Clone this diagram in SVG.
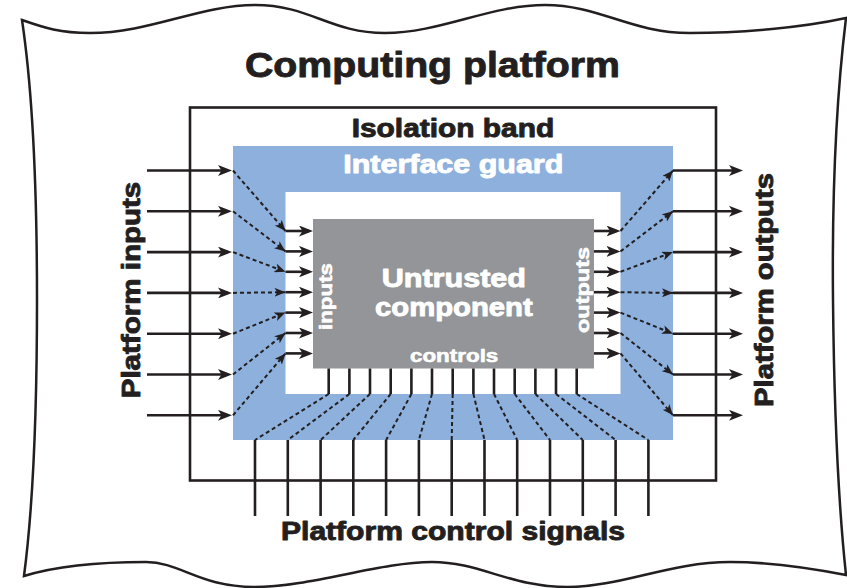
<svg xmlns="http://www.w3.org/2000/svg" width="847" height="588" viewBox="0 0 847 588">
<style>
text{font-family:"Liberation Sans",Arial,sans-serif;font-weight:bold;stroke-width:0.9;stroke-linejoin:round}
.dk{fill:#231f20;stroke:#231f20}
.wt{fill:#ffffff;stroke:#ffffff}
.ln{stroke:#231f20;stroke-width:2.6;fill:none}
.dt{stroke:#231f20;stroke-width:2;fill:none;stroke-dasharray:4 3}
.arr{marker-end:url(#ah)}
.darr{marker-end:url(#dh)}
</style>
<defs>
<marker id="ah" viewBox="0 0 14 11" markerWidth="14" markerHeight="11" refX="10" refY="5.5" orient="auto" markerUnits="userSpaceOnUse"><path d="M0,0 L14,5.5 L0,11 L3.5,5.5 Z" fill="#231f20"/></marker>
<marker id="dh" viewBox="0 0 11 9" markerWidth="11" markerHeight="9" refX="11" refY="4.5" orient="auto" markerUnits="userSpaceOnUse"><path d="M0,0 L11,4.5 L0,9 L2.8,4.5 Z" fill="#231f20"/></marker>
</defs>
<rect width="847" height="588" fill="#ffffff"/>
<g id="platform">
<path d="M22,20 C45,28 60,33 90,33 C150,33 200,5 255,5 C310,5 330,33 385,33 C440,33 490,5 545,5 C600,5 630,33 690,33 C740,33 800,28 846,18 C836,100 832,200 833,300 C834,400 838,500 846,575 C800,566 760,562 730,562 C670,562 620,587 568,587 C510,587 480,562 432,562 C380,562 310,587 254,587 C200,587 180,562 146,562 C90,562 50,568 24,576 C34,500 37,400 37,300 C37,200 34,100 22,20 Z" fill="#ffffff" stroke="#231f20" stroke-width="2.5"/>
<text class="dk" x="245" y="77" font-size="35" textLength="375" lengthAdjust="spacingAndGlyphs">Computing platform</text>
</g>
<g id="isolation-band">
<rect x="190" y="107.5" width="526" height="373" class="ln"/>
<text class="dk" x="351.7" y="136.7" font-size="25.5" textLength="202.5" lengthAdjust="spacingAndGlyphs">Isolation band</text>
</g>
<g id="interface-guard">
<rect x="233" y="146" width="440" height="294" fill="#8db0dd"/>
<rect x="285.5" y="192" width="335" height="202" fill="#ffffff"/>
<text class="wt" x="343.3" y="173.3" font-size="25.5" textLength="220" lengthAdjust="spacingAndGlyphs">Interface guard</text>
</g>
<g id="untrusted-component">
<rect x="313" y="219" width="281" height="149.5" fill="#939598"/>
<text class="wt" x="381.7" y="286.7" font-size="25.5" textLength="144.3" lengthAdjust="spacingAndGlyphs">Untrusted</text>
<text class="wt" x="375" y="315.5" font-size="25.5" textLength="157.7" lengthAdjust="spacingAndGlyphs">component</text>
<text class="wt" x="410" y="361.5" font-size="18.5" textLength="88.3" lengthAdjust="spacingAndGlyphs" style="stroke-width:0.6">controls</text>
<text class="wt" transform="translate(332,296.5) rotate(-90)" text-anchor="middle" font-size="18.5" textLength="67" lengthAdjust="spacingAndGlyphs" style="stroke-width:0.6">inputs</text>
<text class="wt" transform="translate(589,290) rotate(-90)" text-anchor="middle" font-size="18.5" textLength="86" lengthAdjust="spacingAndGlyphs" style="stroke-width:0.6">outputs</text>
</g>
<g id="labels">
<text class="dk" transform="translate(139.5,290) rotate(-90)" text-anchor="middle" font-size="25.5" textLength="216.6" lengthAdjust="spacingAndGlyphs">Platform inputs</text>
<text class="dk" transform="translate(773,290) rotate(-90)" text-anchor="middle" font-size="25.5" textLength="234" lengthAdjust="spacingAndGlyphs">Platform outputs</text>
<text class="dk" x="281" y="539.5" font-size="25.5" textLength="344" lengthAdjust="spacingAndGlyphs">Platform control signals</text>
</g>
<g id="connectors">
<path class="ln arr" d="M147,170.5H228"/>
<path class="ln arr" d="M147,211.3H228"/>
<path class="ln arr" d="M147,252.1H228"/>
<path class="ln arr" d="M147,292.9H228"/>
<path class="ln arr" d="M147,333.7H228"/>
<path class="ln arr" d="M147,374.5H228"/>
<path class="ln arr" d="M147,415.3H228"/>
<path class="dt darr" d="M233,170.5L285.5,231"/>
<path class="dt darr" d="M233,211.3L285.5,251.4"/>
<path class="dt darr" d="M233,252.1L285.5,271.8"/>
<path class="dt darr" d="M233,292.9L285.5,292.2"/>
<path class="dt darr" d="M233,333.7L285.5,312.6"/>
<path class="dt darr" d="M233,374.5L285.5,333"/>
<path class="dt darr" d="M233,415.3L285.5,353.4"/>
<path class="ln arr" d="M285.5,231H309"/>
<path class="ln arr" d="M285.5,251.4H309"/>
<path class="ln arr" d="M285.5,271.8H309"/>
<path class="ln arr" d="M285.5,292.2H309"/>
<path class="ln arr" d="M285.5,312.6H309"/>
<path class="ln arr" d="M285.5,333H309"/>
<path class="ln arr" d="M285.5,353.4H309"/>
<path class="ln arr" d="M594,231H616.5"/>
<path class="ln arr" d="M594,251.4H616.5"/>
<path class="ln arr" d="M594,271.8H616.5"/>
<path class="ln arr" d="M594,292.2H616.5"/>
<path class="ln arr" d="M594,312.6H616.5"/>
<path class="ln arr" d="M594,333H616.5"/>
<path class="ln arr" d="M594,353.4H616.5"/>
<path class="dt darr" d="M620.5,231L673,170.5"/>
<path class="dt darr" d="M620.5,251.4L673,211.3"/>
<path class="dt darr" d="M620.5,271.8L673,252.1"/>
<path class="dt darr" d="M620.5,292.2L673,292.9"/>
<path class="dt darr" d="M620.5,312.6L673,333.7"/>
<path class="dt darr" d="M620.5,333L673,374.5"/>
<path class="dt darr" d="M620.5,353.4L673,415.3"/>
<path class="ln arr" d="M673,170.5H739"/>
<path class="ln arr" d="M673,211.3H739"/>
<path class="ln arr" d="M673,252.1H739"/>
<path class="ln arr" d="M673,292.9H739"/>
<path class="ln arr" d="M673,333.7H739"/>
<path class="ln arr" d="M673,374.5H739"/>
<path class="ln arr" d="M673,415.3H739"/>
<path class="ln" d="M328.7,368.5V394 M349.4,368.5V394 M370,368.5V394 M390.7,368.5V394 M411.4,368.5V394 M432,368.5V394 M452.7,368.5V394 M473.4,368.5V394 M494,368.5V394 M514.7,368.5V394 M535.4,368.5V394 M556,368.5V394 M576.7,368.5V394"/>
<path class="dt" d="M328.7,394L255,440 M349.4,394L287.8,440 M370,394L320.6,440 M390.7,394L353.3,440 M411.4,394L386.1,440 M432,394L418.9,440 M452.7,394L451.7,440 M473.4,394L484.5,440 M494,394L517.2,440 M514.7,394L550,440 M535.4,394L582.8,440 M556,394L615.6,440 M576.7,394L648.4,440"/>
<path class="ln" d="M255,440V516 M287.8,440V516 M320.6,440V516 M353.3,440V516 M386.1,440V516 M418.9,440V516 M451.7,440V516 M484.5,440V516 M517.2,440V516 M550,440V516 M582.8,440V516 M615.6,440V516 M648.4,440V516"/>
</g>
</svg>
